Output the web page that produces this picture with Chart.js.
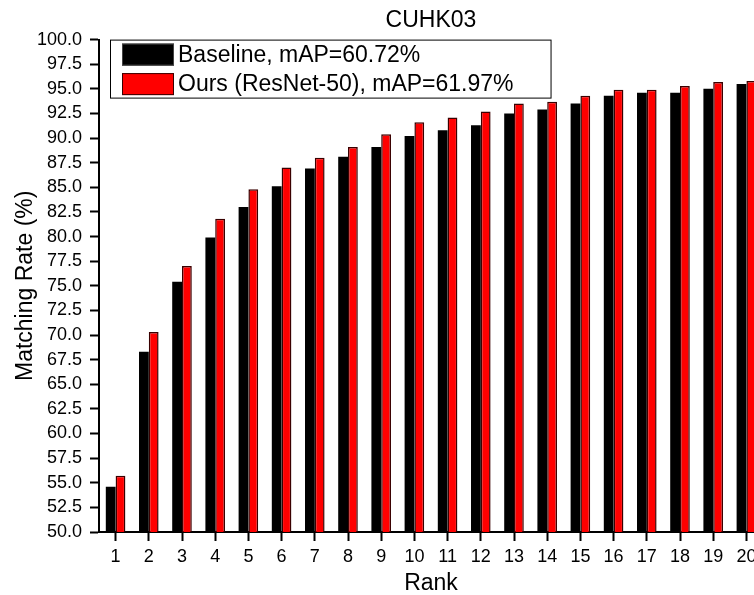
<!DOCTYPE html>
<html>
<head>
<meta charset="utf-8">
<script src="https://cdn.jsdelivr.net/npm/chart.js@4"></script>
<style>
  html, body { margin:0; padding:0; background:#fff; overflow:hidden; }
  #wrap { width:775px; height:595px; }
</style>
</head>
<body>
<div id="wrap"><canvas id="chart" width="775" height="595"></canvas></div>
<script>
const ranks = ['1','2','3','4','5','6','7','8','9','10','11','12','13','14','15','16','17','18','19','20'];
const baselineVals = [54.6, 68.3, 75.4, 79.9, 83.0, 85.1, 86.9, 88.1, 89.1, 90.2, 90.8, 91.3, 92.5, 92.9, 93.5, 94.3, 94.6, 94.6, 95.0, 95.5];
const oursVals = [55.7, 70.3, 77.0, 81.8, 84.8, 87.0, 88.0, 89.1, 90.4, 91.6, 92.1, 92.7, 93.5, 93.7, 94.3, 94.9, 94.9, 95.3, 95.7, 95.8];
const seriesNames = ['Baseline, mAP=60.72%', 'Ours (ResNet-50), mAP=61.97%'];

const FONT = '"Liberation Sans", Arial, sans-serif';

// legend drawn inside the plot, top-left
const insideLegend = {
  id: 'insideLegend',
  afterDraw(chart){
    const { ctx, chartArea } = chart;
    const x0 = chartArea.left + 11, y0 = chartArea.top;
    const swW = 52, swH = 22;
    ctx.save();
    ctx.font = '23px ' + FONT;
    const textX = x0 + 68;
    const maxW = Math.max(...chart.data.datasets.map(d => ctx.measureText(d.label).width));
    const boxW = textX + maxW + 37 - x0, boxH = 58;
    ctx.fillStyle = '#fff';
    ctx.fillRect(x0, y0, boxW, boxH);
    ctx.strokeStyle = '#000'; ctx.lineWidth = 1;
    ctx.strokeRect(x0 + 0.5, y0 + 0.5, boxW, boxH);
    chart.data.datasets.forEach((d, i) => {
      const sy = y0 + 4 + i * 29.5;
      ctx.fillStyle = d.backgroundColor;
      ctx.fillRect(x0 + 12, sy, swW, swH);
      ctx.strokeStyle = i === 0 ? '#444' : d.borderColor; ctx.lineWidth = 1;
      ctx.strokeRect(x0 + 12.5, sy + 0.5, swW - 1, swH - 1);
      ctx.fillStyle = '#000';
      ctx.textBaseline = 'middle';
      ctx.fillText(d.label, textX, sy + swH / 2 + 1);
    });
    ctx.restore();
  }
};

new Chart(document.getElementById('chart'), {
  type: 'bar',
  data: {
    labels: ranks,
    datasets: [
      { label: seriesNames[0], data: baselineVals, backgroundColor: '#000000', borderColor: '#000000', borderWidth: 0 },
      { label: seriesNames[1], data: oursVals, backgroundColor: '#ff0000', borderColor: '#3a0000', borderWidth: 1.5 }
    ]
  },
  options: {
    responsive: false,
    animation: false,
    devicePixelRatio: 1,
    layout: { padding: { left: 0, right: 12, top: 0, bottom: 0 } },
    datasets: { bar: { categoryPercentage: 0.59, barPercentage: 1, borderSkipped: 'bottom' } },
    plugins: {
      legend: { display: false },
      tooltip: { enabled: false },
      title: {
        display: true, text: 'CUHK03', fullSize: false, color: '#000',
        font: { family: FONT, size: 23, weight: 'normal', lineHeight: 1.2 },
        padding: { top: 7, bottom: 5 }
      }
    },
    scales: {
      x: {
        offset: true,
        grid: { offset: false, drawOnChartArea: false, drawTicks: true, tickLength: 9, tickWidth: 2, tickColor: '#000' },
        border: { display: true, color: '#000', width: 2 },
        ticks: { color: '#000', font: { family: FONT, size: 18 }, padding: 5, maxRotation: 0, autoSkip: false },
        title: { display: true, text: 'Rank', color: '#000', font: { family: FONT, size: 23, lineHeight: 1 }, padding: { top: 0, bottom: 0 } },
        afterFit(scale){ scale.height = 63; }
      },
      y: {
        min: 50, max: 100,
        grid: { drawOnChartArea: false, drawTicks: true, tickLength: 9, tickWidth: 2, tickColor: '#000' },
        border: { display: true, color: '#000', width: 2 },
        ticks: { stepSize: 2.5, color: '#000', font: { family: FONT, size: 18 }, padding: 8, callback: v => Number(v).toFixed(1) },
        title: { display: true, text: 'Matching Rate (%)', color: '#000', font: { family: FONT, size: 23, lineHeight: 1 }, padding: { top: 14, bottom: 0 } },
        afterFit(scale){ scale.width = 99; }
      }
    }
  },
  plugins: [insideLegend]
});
</script>
</body>
</html>
